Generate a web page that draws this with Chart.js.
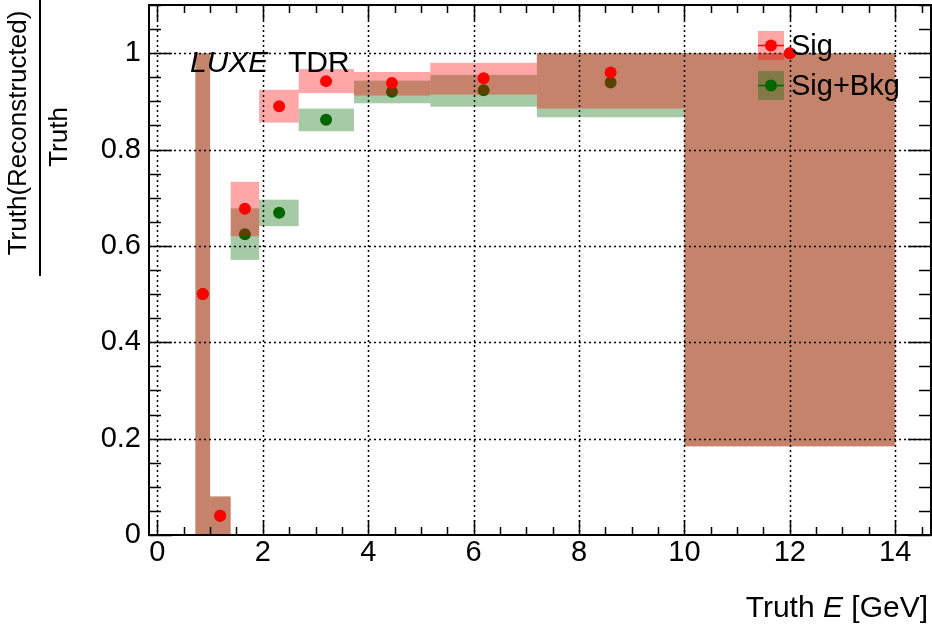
<!DOCTYPE html>
<html>
<head>
<meta charset="utf-8">
<script src="https://cdn.jsdelivr.net/npm/chart.js@4.4.0/dist/chart.umd.min.js"></script>
<style>
  body { margin: 0; background: #fff; }
  #wrap { width: 932px; height: 627px; }
</style>
</head>
<body>
<div id="wrap"><canvas id="effChart" width="932" height="627"></canvas></div>
<script>
// energy bins [GeV]
const binLow    = [0.72, 1.0, 1.39, 1.93, 2.68, 3.73, 5.18, 7.2, 10];
const binHigh   = [1.0, 1.39, 1.93, 2.68, 3.73, 5.18, 7.2, 10, 14];
const binCentre = [0.86, 1.19, 1.66, 2.31, 3.2, 4.45, 6.19, 8.6, 12];

// signal only: value and lower / upper edge of the error box
const sigValue = [0.5, 0.04, 0.677, 0.890, 0.942, 0.938, 0.948, 0.960, 1.0];
const sigLow   = [0.0, 0.0, 0.620, 0.856, 0.917, 0.912, 0.914, 0.885, 0.184];
const sigHigh  = [1.0, 0.08, 0.733, 0.924, 0.967, 0.961, 0.980, 1.0, 1.0];

// signal + background
const sigBkgValue = [0.5, 0.04, 0.624, 0.669, 0.862, 0.920, 0.923, 0.939, 1.0];
const sigBkgLow   = [0.0, 0.0, 0.571, 0.641, 0.838, 0.896, 0.889, 0.867, 0.184];
const sigBkgHigh  = [1.0, 0.08, 0.678, 0.696, 0.885, 0.943, 0.955, 1.0, 1.0];

// axis labels
const xTickValues = [0, 2, 4, 6, 8, 10, 12, 14];
const yTickValues = [0, 0.2, 0.4, 0.6, 0.8, 1];

const FONT = '"Liberation Sans", Arial, Helvetica, sans-serif';

function toPoints(xs, ys) {
  return xs.map(function(x, i) { return { x: x, y: ys[i] }; });
}

// Sig is dataset 0 so it is painted last (on top)
const datasets = [
  {
    label: 'Sig',
    data: toPoints(binCentre, sigValue),
    boxLow: sigLow,
    boxHigh: sigHigh,
    boxColor: 'rgba(255,0,0,0.35)',
    lineColor: '#ff0000',
    pointBackgroundColor: '#ff0000',
    pointBorderColor: '#ff0000',
    pointRadius: 6,
    pointBorderWidth: 0,
    showLine: false
  },
  {
    label: 'Sig+Bkg',
    data: toPoints(binCentre, sigBkgValue),
    boxLow: sigBkgLow,
    boxHigh: sigBkgHigh,
    boxColor: 'rgba(0,102,0,0.35)',
    lineColor: '#006600',
    pointBackgroundColor: '#006600',
    pointBorderColor: '#006600',
    pointRadius: 6,
    pointBorderWidth: 0,
    showLine: false
  }
];

function drawGrid(chart) {
  const ctx = chart.ctx, a = chart.chartArea;
  const xs = chart.scales.x, ys = chart.scales.y;
  ctx.save();
  ctx.strokeStyle = '#000';
  ctx.lineWidth = 1.5;
  ctx.setLineDash([2, 3]);
  xTickValues.forEach(function(v) {
    const px = Math.round(xs.getPixelForValue(v)) + 0.5;
    ctx.beginPath(); ctx.moveTo(px, a.top); ctx.lineTo(px, a.bottom); ctx.stroke();
  });
  yTickValues.forEach(function(v) {
    if (v === 0) return;
    const py = Math.round(ys.getPixelForValue(v)) + 0.5;
    ctx.beginPath(); ctx.moveTo(a.left, py); ctx.lineTo(a.right, py); ctx.stroke();
  });
  ctx.restore();
}

// error boxes under each dataset's markers, grid above the boxes
const errorBoxes = {
  id: 'errorBoxes',
  beforeDatasetDraw: function(chart, args) {
    const ds = chart.data.datasets[args.index];
    const xs = chart.scales.x, ys = chart.scales.y;
    const ctx = chart.ctx;
    ctx.save();
    ctx.fillStyle = ds.boxColor;
    for (let i = 0; i < binLow.length; i++) {
      const x0 = xs.getPixelForValue(binLow[i]);
      const x1 = xs.getPixelForValue(binHigh[i]);
      const y0 = ys.getPixelForValue(ds.boxLow[i]);
      const y1 = ys.getPixelForValue(ds.boxHigh[i]);
      ctx.fillRect(x0, y1, x1 - x0, y0 - y1);
    }
    ctx.restore();
    if (args.index === 0) drawGrid(chart);
  }
};

// ROOT style frame with ticks on all four sides
const frameTicks = {
  id: 'frameTicks',
  afterDatasetsDraw: function(chart) {
    const ctx = chart.ctx, a = chart.chartArea;
    const xs = chart.scales.x, ys = chart.scales.y;
    ctx.save();
    ctx.strokeStyle = '#000';
    ctx.lineWidth = 2;
    ctx.strokeRect(a.left, a.top, a.right - a.left, a.bottom - a.top);
    ctx.lineWidth = 1.5;
    ctx.beginPath();
    for (let v = 0; v <= xs.max; v += 0.5) {
      const px = Math.round(xs.getPixelForValue(v)) + 0.5;
      const len = (v % 2 === 0) ? 15 : 8;
      ctx.moveTo(px, a.bottom); ctx.lineTo(px, a.bottom - len);
      ctx.moveTo(px, a.top); ctx.lineTo(px, a.top + len);
    }
    for (let k = 0; k * 0.05 <= ys.max + 1e-9; k++) {
      const py = Math.round(ys.getPixelForValue(k * 0.05)) + 0.5;
      const len = (k % 4 === 0) ? 23 : 12;
      ctx.moveTo(a.left, py); ctx.lineTo(a.left + len, py);
      ctx.moveTo(a.right, py); ctx.lineTo(a.right - len, py);
    }
    ctx.stroke();
    ctx.restore();
  },
  afterDraw: function(chart) {
    const ctx = chart.ctx;
    ctx.save();
    ctx.fillStyle = '#000';
    ctx.textBaseline = 'alphabetic';

    // LUXE TDR tag
    ctx.font = 'italic 30px ' + FONT;
    ctx.fillText('LUXE', 190, 71.5);
    ctx.font = '30px ' + FONT;
    ctx.fillText('TDR', 288, 71.5);

    // x title, right aligned
    ctx.font = '30px ' + FONT;
    const tail = ' [GeV]';
    const wTail = ctx.measureText(tail).width;
    ctx.font = 'italic 30px ' + FONT;
    const wE = ctx.measureText('E').width;
    ctx.font = '30px ' + FONT;
    const head = 'Truth ';
    const wHead = ctx.measureText(head).width;
    let xr = 928;
    ctx.fillText(tail, xr - wTail, 617);
    ctx.font = 'italic 30px ' + FONT;
    ctx.fillText('E', xr - wTail - wE, 617);
    ctx.font = '30px ' + FONT;
    ctx.fillText(head, xr - wTail - wE - wHead, 617);

    // y title as a fraction, rotated
    ctx.save();
    ctx.translate(0, 137);
    ctx.rotate(-Math.PI / 2);
    ctx.font = '26px ' + FONT;
    ctx.textAlign = 'center';
    ctx.fillText('Truth(Reconstructed)', 4, 26);
    ctx.fillText('Truth', 0, 67);
    ctx.fillRect(-139, 39, 278, 2);
    ctx.restore();

    // legend
    chart.data.datasets.forEach(function(ds, i) {
      const top = 31 + i * 40, mid = top + 14.5;
      ctx.fillStyle = ds.boxColor;
      ctx.fillRect(758, top, 26, 29);
      ctx.strokeStyle = ds.lineColor;
      ctx.lineWidth = 1.5;
      ctx.beginPath(); ctx.moveTo(758, mid); ctx.lineTo(784, mid); ctx.stroke();
      ctx.fillStyle = ds.lineColor;
      ctx.beginPath(); ctx.arc(771, mid, 6, 0, Math.PI * 2); ctx.fill();
      ctx.fillStyle = '#000';
      ctx.font = '29px ' + FONT;
      ctx.textAlign = 'left';
      ctx.textBaseline = 'middle';
      ctx.fillText(ds.label, 791, mid + 1);
      ctx.textBaseline = 'alphabetic';
    });
    ctx.restore();
  }
};

// fixed scale sizes, no extra room for edge labels
function noPadding(s) {
  s.paddingTop = 0; s.paddingBottom = 0; s.paddingLeft = 0; s.paddingRight = 0;
}

new Chart(document.getElementById('effChart').getContext('2d'), {
  type: 'scatter',
  data: { datasets: datasets },
  plugins: [errorBoxes, frameTicks],
  options: {
    responsive: false,
    animation: false,
    devicePixelRatio: 1,
    layout: { autoPadding: false, padding: { top: 5, right: 1, left: 0, bottom: 0 } },
    plugins: {
      legend: { display: false },
      tooltip: { enabled: false }
    },
    scales: {
      x: {
        type: 'linear',
        min: -0.16,
        max: 14.68,
        grid: { display: false, drawTicks: false },
        border: { display: false },
        afterBuildTicks: function(s) { s.ticks = xTickValues.map(function(v) { return { value: v }; }); },
        afterFit: function(s) { s.height = 92; noPadding(s); },
        ticks: {
          color: '#000',
          padding: 1,
          maxRotation: 0,
          autoSkip: false,
          font: { family: FONT, size: 29 },
          callback: function(v) { return String(v); }
        }
      },
      y: {
        type: 'linear',
        min: 0,
        max: 1.1,
        grid: { display: false, drawTicks: false },
        border: { display: false },
        afterBuildTicks: function(s) { s.ticks = yTickValues.map(function(v) { return { value: v }; }); },
        afterFit: function(s) { s.width = 149; noPadding(s); },
        ticks: {
          color: '#000',
          padding: 8,
          autoSkip: false,
          font: { family: FONT, size: 29 },
          callback: function(v) { return String(v); }
        }
      }
    }
  }
});
</script>
</body>
</html>
